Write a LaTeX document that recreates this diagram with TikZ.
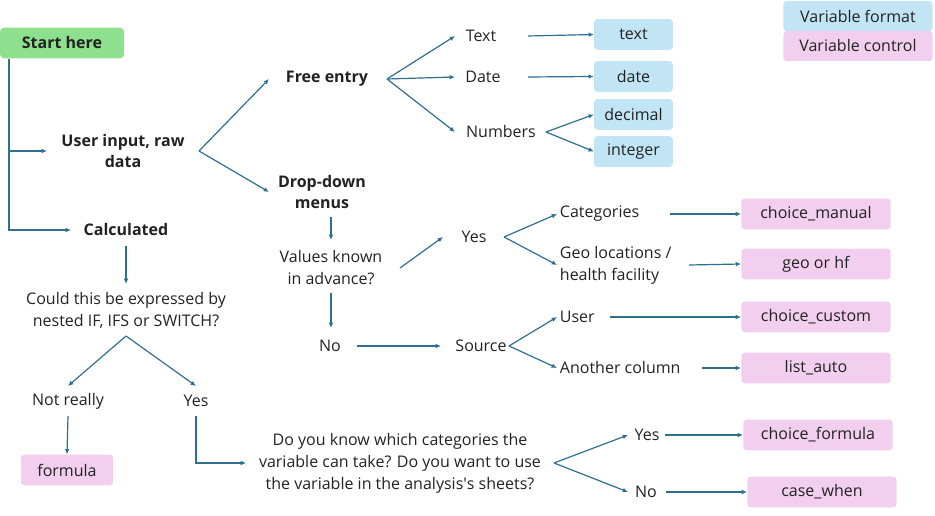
\documentclass[tikz,border=0pt]{standalone}
\usepackage{fontspec}
\setmainfont{Open Sans}
\usepackage{xcolor}
\usepackage{tikz}
\usetikzlibrary{arrows.meta, positioning}

\definecolor{linecol}{HTML}{2F6F8F}
\definecolor{fmtblue}{HTML}{C2E5F5}
\definecolor{ctlpink}{HTML}{F2CFEE}
\definecolor{startgreen}{HTML}{8EE08E}
\definecolor{txtcol}{HTML}{222222}

\tikzset{
  lbl/.style={font=\fontsize{12}{16.5}\selectfont, align=center, inner sep=2pt, text=txtcol},
  hd/.style={lbl, font=\fontsize{12}{16}\selectfont\bfseries},
  fmtbox/.style={lbl, fill=fmtblue, rounded corners=2.5pt, minimum width=59pt, minimum height=23pt},
  ctlbox/.style={lbl, fill=ctlpink, rounded corners=2.5pt, minimum width=112pt, minimum height=23pt},
  conn/.style={draw=linecol, line width=0.9pt},
}

\begin{document}
\begin{tikzpicture}[>={Latex[length=4pt, width=3.5pt]}, x=0.75pt, y=-0.75pt]
    \useasboundingbox (0,0) rectangle (935,516);

    % Start and the first split
    \node[hd, fill=startgreen, rounded corners=3pt, minimum width=93pt, minimum height=23pt] (start) at (62,43) {Start here};
    \node[hd] (user) at (123,151) {User input, raw\\data};
    \node[hd] (calc) at (126,230) {Calculated};

    % Free entry branch
    \node[hd] (free) at (327,79) {Free entry};
    \node[lbl] (lText) at (481,36) {Text};
    \node[lbl] (lDate) at (483,77) {Date};
    \node[lbl] (lNum) at (501,132) {Numbers};
    \node[fmtbox] (bText) at (633.5,34.5) {text};
    \node[fmtbox] (bDate) at (633.5,76.5) {date};
    \node[fmtbox] (bDec) at (633.5,114.5) {decimal};
    \node[fmtbox] (bInt) at (633.5,151.5) {integer};

    % Legend
    \node[fmtbox, minimum width=112pt, minimum height=22.5pt] (legFmt) at (858,16) {Variable format};
    \node[ctlbox, minimum height=22.5pt] (legCtl) at (858,46) {Variable control};

    % Drop-down branch
    \node[hd] (drop) at (322,192) {Drop-down\\menus};
    \node[lbl] (known) at (331,268) {Values known\\in advance?};
    \node[lbl] (yesA) at (474,237) {Yes};
    \node[lbl] (noA) at (330,346) {No};
    \node[lbl] (source) at (481,346) {Source};
    \node[lbl, anchor=west] (cat) at (557,214) {Categories};
    \node[lbl, anchor=west, align=left] (geo) at (557,265) {Geo locations /\\health facility};
    \node[lbl, anchor=west] (usr) at (557,317) {User};
    \node[lbl, anchor=west] (other) at (557,368) {Another column};
    \node[ctlbox] (bMan) at (816,214) {choice\_manual};
    \node[ctlbox] (bGeo) at (816,264) {geo or hf};
    \node[ctlbox] (bCus) at (816,317) {choice\_custom};
    \node[ctlbox] (bList) at (816,368) {list\_auto};

    % Calculated branch
    \node[lbl] (could) at (126,310) {Could this be expressed by\\nested IF, IFS or SWITCH?};
    \node[lbl] (notr) at (68,401) {Not really};
    \node[lbl] (yesB) at (196,401) {Yes};
    \node[ctlbox, minimum width=69pt] (bFor) at (67,470) {formula};
    \node[lbl] (doyou) at (400,463) {Do you know which categories the\\variable can take? Do you want to use\\the variable in the analysis\textquotesingle s sheets?};
    \node[lbl] (yesC) at (647,435) {Yes};
    \node[lbl] (noC) at (646,492) {No};
    \node[ctlbox] (bChF) at (818,435) {choice\_formula};
    \node[ctlbox] (bCase) at (822,492) {case\_when};

    % Trunk
    \draw[conn, ->] (start.south -| 9,0) |- (calc.west -| 71,0);
    \draw[conn, ->] (user.west -| 9,0) -- (user.west -| 47,0);
    \draw[conn, ->] (user.east -| 199,0) -- (free.west -| 269,0);
    \draw[conn, ->] (user.east -| 199,0) -- (drop.west -| 269,0);

    % Free entry arrows
    \draw[conn, ->] (free.east -| 387,0) -- (lText.west -| 455,0);
    \draw[conn, ->] (free.east -| 387,0) -- (lDate.west -| 455,0);
    \draw[conn, ->] (free.east -| 387,0) -- (lNum.west -| 455,0);
    \draw[conn, ->] (lText.east -| 528,0) -- (bText.west);
    \draw[conn, ->] (lDate.east -| 528,0) -- (bDate.west);
    \draw[conn, ->] (lNum.east -| 546,0) -- (bDec.west);
    \draw[conn, ->] (lNum.east -| 546,0) -- (bInt.west);

    % Drop-down arrows
    \draw[conn, ->] (known |- 0,217) -- (known |- 0,240);
    \draw[conn, ->] (known.east -| 400,0) -- (yesA.west -| 443,0);
    \draw[conn, ->] (known |- 0,293) -- (known |- 0,328);
    \draw[conn, ->] (noA.east -| 357,0) -- (source.west -| 441,0);
    \draw[conn, ->] (yesA.east -| 504,0) -- (cat.west);
    \draw[conn, ->] (yesA.east -| 504,0) -- (geo.west);
    \draw[conn, ->] (source.east -| 509,0) -- (usr.west);
    \draw[conn, ->] (source.east -| 509,0) -- (other.west);
    \draw[conn, ->] (cat.east -| 670,0) -- (bMan.west);
    \draw[conn, ->] (geo.east -| 689,0) -- (bGeo.west);
    \draw[conn, ->] (usr.east -| 610,0) -- (bCus.west);
    \draw[conn, ->] (other.east -| 702,0) -- (bList.west);

    % Calculated arrows
    \draw[conn, ->] (calc |- 0,246) -- (calc |- 0,284);
    \draw[conn, ->] (could |- 0,336) -- (notr |- 0,386);
    \draw[conn, ->] (could |- 0,336) -- (yesB |- 0,386);
    \draw[conn, ->] (notr |- 0,416) -- (bFor.north);
    \draw[conn, ->] (yesB |- 0,416) |- (doyou.west -| 246,0);
    \draw[conn, ->] (doyou.east -| 554,0) -- (yesC.west -| 628,0);
    \draw[conn, ->] (doyou.east -| 554,0) -- (noC.west -| 628,0);
    \draw[conn, ->] (yesC.east -| 665,0) -- (bChF.west);
    \draw[conn, ->] (noC.east -| 666,0) -- (bCase.west);
\end{tikzpicture}
\end{document}
